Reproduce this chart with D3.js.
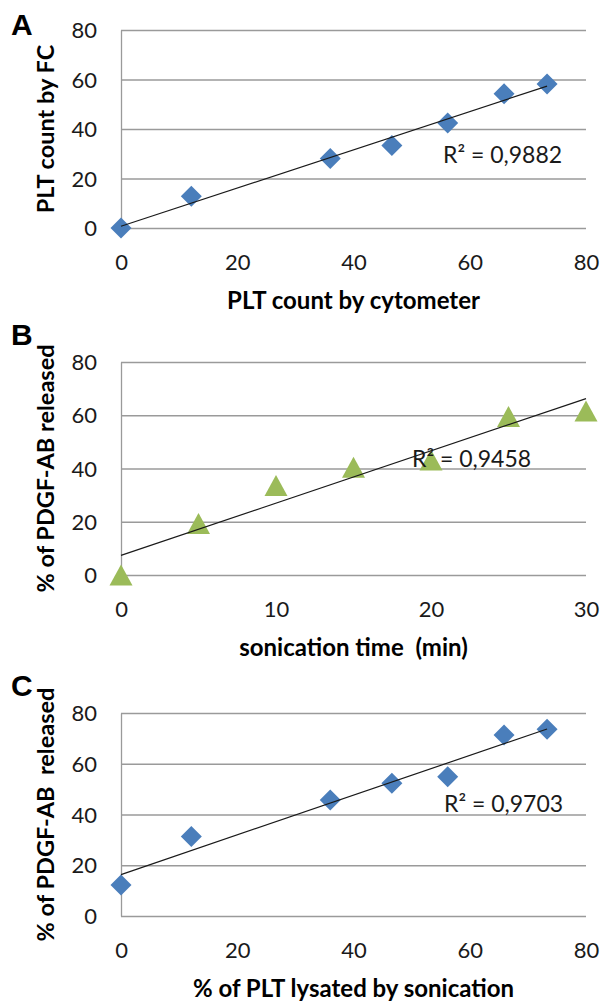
<!DOCTYPE html>
<meta charset="utf-8">
<style>
  body { margin: 0; background: #fff; }
  svg { display: block; }
</style>
<body>
<script src="https://d3js.org/d3.v7.min.js"></script>
<script>

// panel A : PLT count
var plateletX = [0, 12.1, 36.0, 46.6, 56.2, 65.9, 73.3];
var fcCount = [0, 12.8, 28.1, 33.3, 42.4, 54.2, 58.2];

// panel B : sonication time
var sonicMin = [0, 5, 10, 15, 20, 25, 30];
var pdgfByTime = [0, 19.3, 33.6, 40.5, 43.2, 59.5, 61.6];

// panel C : lysis vs release
var lysedPct = [0, 12.1, 36.0, 46.6, 56.2, 65.9, 73.3];
var pdgfByLysis = [12.2, 31.3, 45.7, 52.3, 54.9, 71.3, 73.6];

var ticks80 = [0, 20, 40, 60, 80];
var ticks30 = [0, 10, 20, 30];

var width = 602,
    height = 1001;

var svg = d3.select("body").append("svg")
    .attr("width", width)
    .attr("height", height)
    .style("font-family", "Lato, 'Open Sans', sans-serif");

var panels = [
  { letter: "A", xs: plateletX, ys: fcCount, xmax: 80, xticks: ticks80, marker: "diamond",
    xlab: "PLT count by cytometer", ylab: "PLT count by FC", r2: "R² = 0,9882",
    top: 30, bottom: 228, letterY: 35, r2x: 443, r2y: 163 },
  { letter: "B", xs: sonicMin, ys: pdgfByTime, xmax: 30, xticks: ticks30, marker: "triangle",
    xlab: "sonication time  (min)", ylab: "% of PDGF-AB released", r2: "R² = 0,9458",
    top: 362, bottom: 575, letterY: 345, r2x: 412, r2y: 467 },
  { letter: "C", xs: lysedPct, ys: pdgfByLysis, xmax: 80, xticks: ticks80, marker: "diamond",
    xlab: "% of PLT lysated by sonication", ylab: "% of PDGF-AB  released", r2: "R² = 0,9703",
    top: 713, bottom: 916, letterY: 696, r2x: 444, r2y: 812 }
];

var left = 121, right = 586;

panels.forEach(function(p) {
  var x = d3.scaleLinear().domain([0, p.xmax]).range([left, right]);
  var y = d3.scaleLinear().domain([0, 80]).range([p.bottom, p.top]);
  var g = svg.append("g");

  // gridlines + y labels
  var ya = g.append("g")
      .attr("transform", "translate(" + left + ",0)")
      .call(d3.axisLeft(y).tickValues(ticks80).tickSize(-(right - left)).tickSizeOuter(0));
  ya.select(".domain").attr("stroke", "#9a9a9a").attr("stroke-width", 1.3);
  ya.selectAll(".tick line").attr("stroke", "#9a9a9a").attr("stroke-width", 1.3);
  ya.selectAll(".tick text")
      .attr("x", -24).attr("dy", "0.35em")
      .attr("font-size", 22).attr("font-family", "Lato, sans-serif").attr("fill", "#1a1a1a");

  // x labels
  var xa = g.append("g")
      .attr("transform", "translate(0," + p.bottom + ")")
      .call(d3.axisBottom(x).tickValues(p.xticks).tickSize(0));
  xa.select(".domain").remove();
  xa.selectAll(".tick text")
      .attr("y", 34).attr("dy", "0.35em")
      .attr("font-size", 22).attr("font-family", "Lato, sans-serif").attr("fill", "#1a1a1a");

  // markers
  var sym = p.marker == "diamond"
      ? "M0,-10.5L10.5,0L0,10.5L-10.5,0Z"
      : "M0,-10.5L11.5,10.5L-11.5,10.5Z";
  g.selectAll(".pt")
    .data(d3.range(p.xs.length))
    .enter().append("path")
      .attr("class", "pt")
      .attr("d", sym)
      .attr("transform", function(i) { return "translate(" + x(p.xs[i]) + "," + y(p.ys[i]) + ")"; })
      .attr("fill", p.marker == "diamond" ? "#4a7ebb" : "#9bbb59");

  // linear trend
  var mx = d3.mean(p.xs), my = d3.mean(p.ys);
  var sxy = d3.sum(p.xs, function(v, i) { return (v - mx) * (p.ys[i] - my); });
  var sxx = d3.sum(p.xs, function(v) { return (v - mx) * (v - mx); });
  var slope = sxy / sxx, icpt = my - slope * mx;
  var ext = d3.extent(p.xs);
  g.append("path")
      .datum(ext)
      .attr("d", d3.line().x(function(v) { return x(v); }).y(function(v) { return y(icpt + slope * v); }))
      .attr("stroke", "#1a1a1a").attr("stroke-width", 1.2).attr("fill", "none");

  g.append("text")
      .attr("x", p.r2x).attr("y", p.r2y)
      .attr("font-size", 23).attr("fill", "#1a1a1a")
      .text(p.r2);

  // axis titles
  g.append("text")
      .attr("x", (left + right) / 2).attr("y", p.bottom + 73)
      .attr("dy", "0.35em")
      .attr("text-anchor", "middle")
      .attr("font-size", 24).attr("font-weight", "bold")
      .style("white-space", "pre")
      .text(p.xlab);

  g.append("text")
      .attr("transform", "translate(46," + (p.top + p.bottom) / 2 + ") rotate(-90)")
      .attr("dy", "0.35em")
      .attr("text-anchor", "middle")
      .attr("font-size", 23.5).attr("font-weight", "bold")
      .style("white-space", "pre")
      .text(p.ylab);

  g.append("text")
      .attr("x", 11).attr("y", p.letterY)
      .attr("font-family", "'Liberation Sans', Arial, sans-serif")
      .attr("font-size", 30).attr("font-weight", "bold")
      .text(p.letter);
});

</script>
